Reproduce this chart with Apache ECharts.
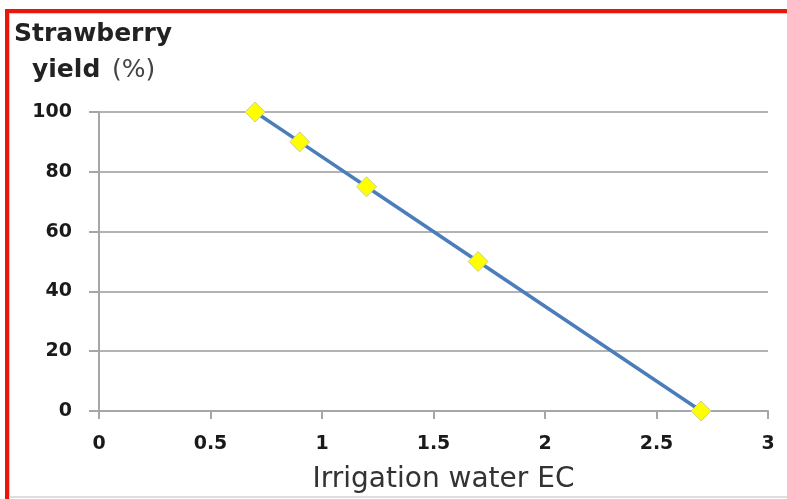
<!DOCTYPE html>
<html>
<head>
<meta charset="utf-8">
<script src="https://cdn.jsdelivr.net/npm/echarts@6/dist/echarts.min.js"></script>
<style>
html,body{margin:0;padding:0;background:#fff;}
#c{width:787px;height:499px;}
</style>
</head>
<body>
<div id="c"></div>
<script>
var ecValues = [0.7, 0.9, 1.2, 1.7, 2.7];
var yieldValues = [100, 90, 75, 50, 0];
var yTitleLine1 = 'Strawberry';
var yTitleLine2a = 'yield';
var yTitleLine2b = '(%)';
var xTitle = 'Irrigation water EC';

var data = ecValues.map(function (x, i) { return [x, yieldValues[i]]; });
var chart = echarts.init(document.getElementById('c'), null, {renderer: 'canvas'});
var font = '"DejaVu Sans", sans-serif';
chart.setOption({
  animation: false,
  backgroundColor: '#ffffff',
  grid: {left: 99, right: 19, top: 112, bottom: 88, containLabel: false},
  xAxis: {
    type: 'value', min: 0, max: 3, interval: 0.5,
    name: xTitle, nameLocation: 'middle', nameGap: 55,
    nameTextStyle: {fontSize: 28, color: '#333', fontFamily: font, padding: [0, 0, 0, 20]},
    axisLine: {show: true, lineStyle: {color: '#a6a6a6', width: 2}},
    axisTick: {show: true, inside: false, length: 8, lineStyle: {color: '#a6a6a6', width: 2}},
    axisLabel: {fontSize: 19, fontWeight: 'bold', color: '#1a1a1a', margin: 24, fontFamily: font},
    splitLine: {show: false}
  },
  yAxis: {
    type: 'value', min: 0, max: 100, interval: 20,
    axisLine: {show: true, lineStyle: {color: '#a6a6a6', width: 2}},
    axisTick: {show: true, inside: false, length: 10, lineStyle: {color: '#a6a6a6', width: 2}},
    axisLabel: {fontSize: 19, fontWeight: 'bold', color: '#1a1a1a', margin: 27, fontFamily: font},
    splitLine: {show: true, lineStyle: {color: '#b3b3b3', width: 2}}
  },
  series: [{
    type: 'line', data: data,
    symbol: 'diamond', symbolSize: 20,
    lineStyle: {color: '#4a7ebb', width: 3.5},
    itemStyle: {color: '#ffff00', borderColor: '#c9cf9a', borderWidth: 1},
    z: 3
  }],
  graphic: [
    {type: 'rect', shape: {x: 5, y: 9, width: 782, height: 4}, style: {fill: '#e8170b'}},
    {type: 'rect', shape: {x: 5, y: 9, width: 4, height: 490}, style: {fill: '#e8170b'}},
    {type: 'rect', shape: {x: 9, y: 13, width: 778, height: 1}, style: {fill: '#d0d0d0'}},
    {type: 'rect', shape: {x: 9, y: 13, width: 1, height: 486}, style: {fill: '#d0d0d0'}},
    {type: 'rect', shape: {x: 9, y: 496, width: 778, height: 2}, style: {fill: '#dedede'}},
    {type: 'text', left: 14, top: 22, style: {text: yTitleLine1, font: 'bold 25px ' + font, fill: '#222'}},
    {type: 'text', left: 32, top: 58, style: {text: yTitleLine2a, font: 'bold 25px ' + font, fill: '#222'}},
    {type: 'text', left: 112, top: 58, style: {text: yTitleLine2b, font: '25px ' + font, fill: '#444'}}
  ]
});
</script>
</body>
</html>
